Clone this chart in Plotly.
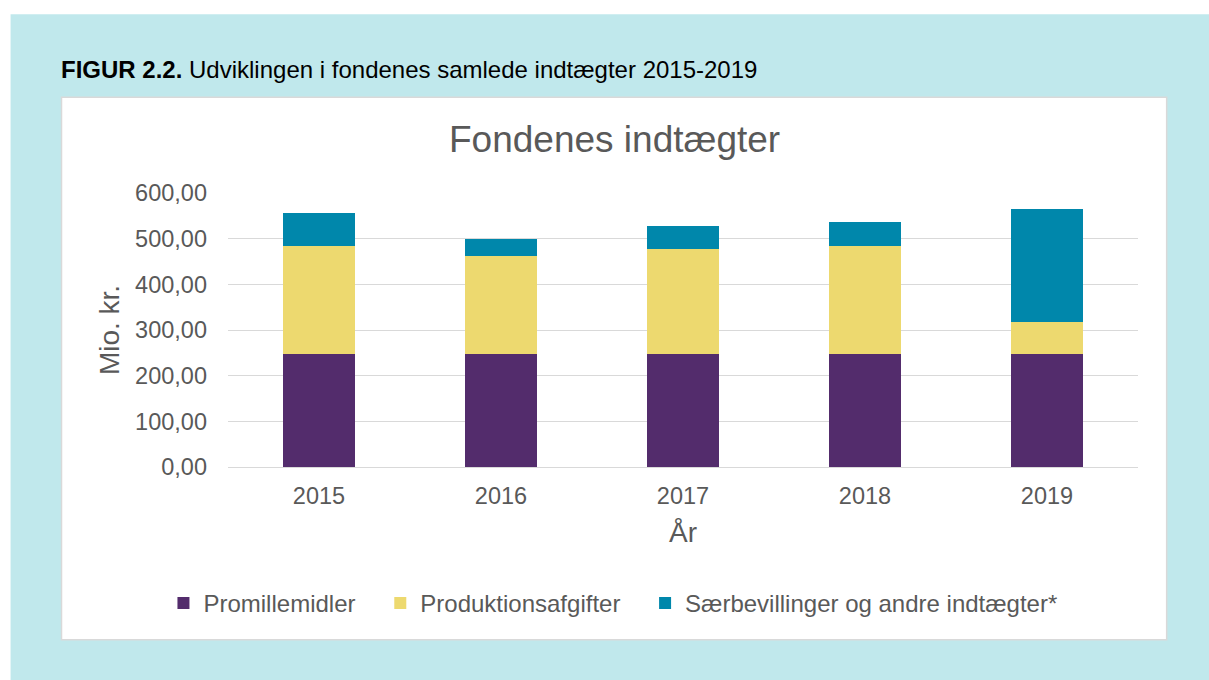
import plotly.graph_objects as go

# ---------------- data ----------------
years = ["2015", "2016", "2017", "2018", "2019"]
promillemidler = [248.0, 248.0, 248.0, 248.0, 248.0]
produktionsafgifter = [236.4, 213.0, 230.0, 237.0, 69.6]
saerbevillinger = [71.8, 38.2, 49.7, 51.3, 246.5]
series_names = ["Promillemidler", "Produktionsafgifter", "Særbevillinger og andre indtægter*"]
y_ticks = [0, 100, 200, 300, 400, 500, 600]

# ---------------- layout geometry (pixels) ----------------
W, H = 1209, 680
L, R, T, B = 227.6, 1138.3, 193.3, 466.7


def px(x):
    return (x - L) / (R - L)


def py(y):
    return (B - y) / (B - T)


FONT = "Liberation Sans, Arial, sans-serif"
GREY = "#595959"
colors = ["#532C6C", "#EDD96F", "#0087AB"]

fig = go.Figure()
for i, (name, vals) in enumerate(zip(series_names, [promillemidler, produktionsafgifter, saerbevillinger])):
    fig.add_trace(go.Bar(
        x=years, y=vals, name=name,
        marker=dict(color=colors[i], line=dict(width=0)),
        legend="legend" if i == 0 else f"legend{i+1}",
        showlegend=True,
    ))

legend_common = dict(orientation="h", yanchor="middle", xanchor="left",
                     font=dict(family=FONT, size=24, color=GREY),
                     bgcolor="rgba(0,0,0,0)", borderwidth=0, visible=True)

fig.update_layout(
    width=W, height=H,
    showlegend=True,
    margin=dict(l=L, r=W - R, t=T, b=H - B, pad=0),
    paper_bgcolor="white",
    plot_bgcolor="rgba(0,0,0,0)",
    barmode="stack",
    bargap=0.6,
    separators=",.",
    font=dict(family=FONT, color=GREY),
    xaxis=dict(
        showgrid=False, showline=False, zeroline=False,
        tickfont=dict(size=23.5, color=GREY), ticks="",
        ticklabelstandoff=12,
        title=dict(text="År", font=dict(size=28, color=GREY), standoff=14),
    ),
    yaxis=dict(
        range=[0, 600], tickvals=y_ticks, tickformat=".2f",
        showgrid=True, gridcolor="#D9D9D9", gridwidth=1.3,
        zeroline=True, zerolinecolor="#D9D9D9", zerolinewidth=1.3,
        showline=False, ticks="",
        tickfont=dict(size=23.5, color=GREY),
        ticklabelstandoff=20,
        title=dict(text="Mio. kr.", font=dict(size=28, color=GREY), standoff=7),
    ),
    legend=dict(x=px(163), y=py(602.7), **legend_common),
    legend2=dict(x=px(380), y=py(602.7), **legend_common),
    legend3=dict(x=px(645), y=py(602.7), **legend_common),
    shapes=[
        dict(type="rect", xref="paper", yref="paper", layer="below",
             x0=px(10), x1=px(1215), y0=py(15), y1=py(690),
             fillcolor="#C0E8EC", line=dict(width=0)),
        dict(type="rect", xref="paper", yref="paper", layer="below",
             x0=px(61), x1=px(1167), y0=py(97.7), y1=py(639),
             fillcolor="white", line=dict(color="#D9D9D9", width=1.5)),
    ],
    annotations=[
        dict(text="<b>FIGUR 2.2.</b> Udviklingen i fondenes samlede indtægter 2015-2019",
             xref="paper", yref="paper", x=px(58.5), y=py(69.7),
             xanchor="left", yanchor="middle", showarrow=False,
             font=dict(family=FONT, size=24, color="#000000")),
        dict(text="Fondenes indtægter",
             xref="paper", yref="paper", x=px(614), y=py(139.5),
             xanchor="center", yanchor="middle", showarrow=False,
             font=dict(family=FONT, size=37, color=GREY)),
    ],
)

fig.write_html("out.html")
